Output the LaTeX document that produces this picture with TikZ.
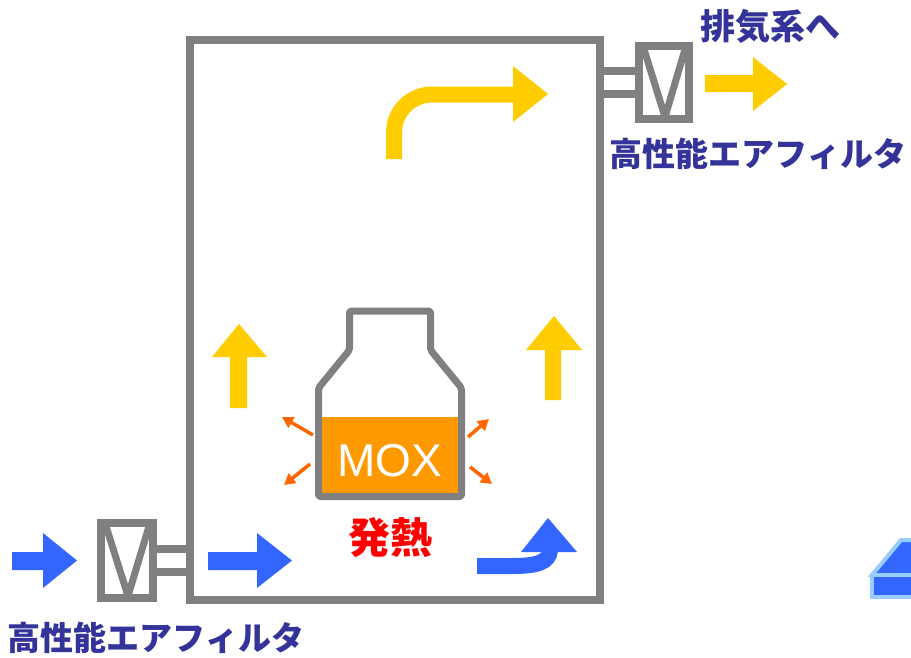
\documentclass[tikz,border=0pt]{standalone}
\usepackage{fontspec}
\setmainfont{Liberation Sans}
\newfontfamily\jpfont{Noto Sans CJK JP}
\usetikzlibrary{arrows.meta}

\definecolor{wallgray}{HTML}{808080}
\definecolor{airblue}{HTML}{3366FF}
\definecolor{warmyellow}{HTML}{FFCC00}
\definecolor{heatorange}{HTML}{FF6600}
\definecolor{moxorange}{HTML}{FF9900}
\definecolor{labelblue}{HTML}{333399}
\definecolor{paleblue}{HTML}{99CCFF}

\begin{document}
\begin{tikzpicture}[x=1pt, y=-1pt,
    wall/.style={draw=wallgray, line width=8pt},
    vmark/.style={draw=wallgray, line width=7pt, line join=bevel},
    heat/.style={heatorange, line width=3.5pt, -{Triangle[length=11pt, width=12pt]}},
    jplabel/.style={font=\jpfont\bfseries\fontsize{33}{33}\selectfont, text=labelblue, inner sep=0pt}]
    \useasboundingbox (0,0) rectangle (911,657);

    % Glovebox wall
    \draw[wall] (190,40) rectangle (600,600);

    % Exhaust side filter (top right) and its duct
    \draw[wall] (600,71) -- (639,71) (600,94) -- (639,94);
    \draw[wall] (639,46) rectangle (689,119);
    \draw[vmark] (643,46) -- (665,117) -- (686,46);

    % Inlet side filter (bottom left) and its duct
    \draw[wall] (153,549) -- (190,549) (153,572) -- (190,572);
    \draw[wall] (101,523) rectangle (153,598);
    \draw[vmark] (105,523) -- (128,596) -- (150,523);

    % Incoming air (blue)
    \fill[airblue] (12,552) -- (43,552) -- (43,533) -- (77,560.5) -- (43,588) -- (43,570) -- (12,570) -- cycle;
    \fill[airblue] (208,552) -- (257,552) -- (257,533) -- (292,560.5) -- (257,588) -- (257,570) -- (208,570) -- cycle;
    \draw[airblue, line width=16pt] (477,566) -- (512,566) .. controls (538,566) and (549,562) .. (550,550);
    \fill[airblue] (521,552) -- (548,518) -- (577,552) -- cycle;

    % Warm air rising (yellow)
    \fill[warmyellow] (230,408) -- (230,357) -- (212,357) -- (239,324) -- (267,357) -- (247,357) -- (247,408) -- cycle;
    \fill[warmyellow] (545,400) -- (545,350) -- (526,350) -- (554,316) -- (582,350) -- (561,350) -- (561,400) -- cycle;
    \draw[warmyellow, line width=16pt, rounded corners=38pt] (394,159) -- (394,94.5) -- (514,94.5);
    \fill[warmyellow] (513,66) -- (548,94) -- (513,122) -- cycle;
    \fill[warmyellow] (705,75) -- (753,75) -- (753,57) -- (787,84) -- (753,111) -- (753,92) -- (705,92) -- cycle;

    % MOX container
    \fill[moxorange] (322,417) rectangle (458,493);
    \draw[wallgray, line width=7pt, rounded corners=2pt, line join=round]
        (349.5,311) -- (349.5,350) -- (318.5,388) -- (318.5,496.5) -- (461.5,496.5)
        -- (461.5,388) -- (430.5,350) -- (430.5,311) -- cycle;
    \node[text=white, font=\fontsize{46}{46}\selectfont, inner sep=0pt] (mox) at (390,461) {MOX};

    % Heat given off
    \draw[heat] (313,435) -- (282,417);
    \draw[heat] (310,464) -- (284,485);
    \draw[heat] (468,437) -- (489,419);
    \draw[heat] (470,467) -- (492,484);
    \node[font=\jpfont\bfseries\fontsize{42}{42}\selectfont, text=red, inner sep=0pt] (heatlabel) at (390,538) {発熱};

    % Labels
    \node[jplabel, font=\jpfont\bfseries\fontsize{35}{35}\selectfont] (exhaust) at (770,26) {排気系へ};
    \node[jplabel] (filtertop) at (758,154) {高性能エアフィルタ};
    \node[jplabel] (filterbottom) at (156,638) {高性能エアフィルタ};

    % Edge of neighbouring equipment
    \filldraw[draw=paleblue, fill=airblue, line width=4pt] (872,575) -- (901,540) -- (916,540) -- (916,575) -- cycle;
    \filldraw[draw=paleblue, fill=airblue, line width=4pt] (872,575) rectangle (916,597);
\end{tikzpicture}
\end{document}
